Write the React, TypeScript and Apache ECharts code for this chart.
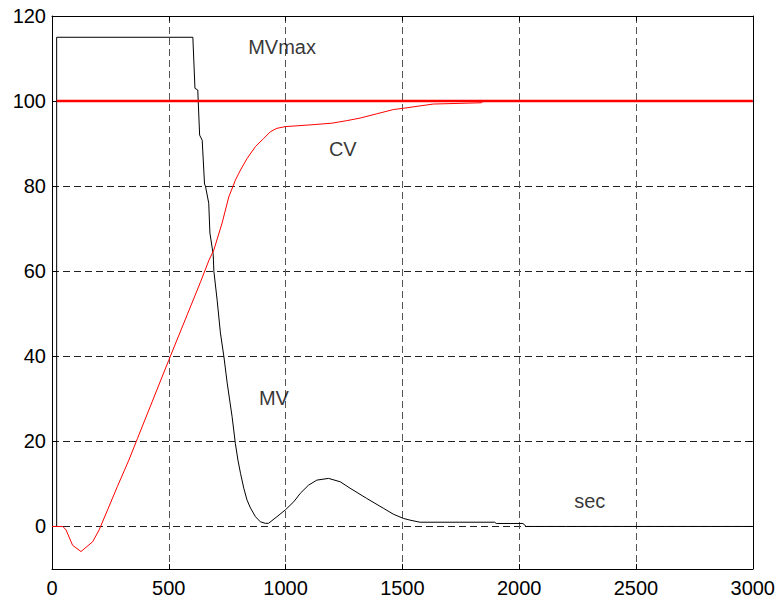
import React, { useEffect, useRef } from "react";
import * as echarts from "echarts";

// MV (manipulated variable) trajectory: time [s], value
const mvTime = [0, 20, 20, 603, 612, 624, 632, 643, 653, 657, 671, 676, 690, 693, 707, 721, 736, 750, 771, 785, 796, 807, 821, 835, 850, 871, 892, 913, 927, 963, 999, 1035, 1063, 1098, 1134, 1184, 1234, 1276, 1347, 1418, 1461, 1504, 1532, 1575, 1746, 1895, 1902, 2016, 2030, 2200, 3000];
const mvValue = [0, 0, 115, 115, 103, 102.6, 92, 90.8, 80.5, 80, 76, 69, 64, 60, 53.2, 45.5, 39.9, 33.7, 25.8, 19.5, 15.6, 12.5, 9, 6.2, 4.3, 2.3, 1.1, 0.74, 0.74, 2.3, 3.9, 5.8, 7.8, 9.7, 10.9, 11.3, 10.5, 9, 6.6, 4.3, 2.9, 1.9, 1.5, 1.0, 1.0, 1.0, 0.7, 0.7, 0, 0, 0];

// CV (controlled variable) trajectory
const cvTime = [0, 46, 60, 88, 124, 174, 202, 238, 280, 329, 366, 500, 636, 672, 693, 728, 757, 785, 807, 835, 871, 906, 935, 963, 999, 1105, 1198, 1262, 1319, 1390, 1461, 1504, 1554, 1632, 1838, 1845, 2200];
const cvValue = [0, 0, -0.8, -4.4, -5.9, -3.6, -0.8, 3.9, 9.4, 15.6, 20.7, 39.1, 57.5, 62.6, 65, 71.3, 77.5, 81.4, 83.8, 86.5, 89.3, 91.2, 92.8, 93.6, 94, 94.4, 94.8, 95.4, 96, 97, 98, 98.3, 98.7, 99.3, 99.6, 99.9, 100];

// Setpoint
const spTime = [20, 3000];
const spValue = [100, 100];

// Annotations
const noteText = ["MVmax", "CV", "MV", "sec"];
const noteTime = [985, 1245, 950, 2302];
const noteValue = [112.7, 88.7, 30.3, 6.1];

// Axes
const xMin = 0, xMax = 3000, xStep = 500;
const yMin = -10, yMax = 120, yStep = 20;

const FONT = "'Liberation Sans', Arial, sans-serif";

export default function App() {
  const ref = useRef<HTMLDivElement>(null);
  useEffect(() => {
    if (!ref.current) return;
    const chart = echarts.init(ref.current, null, { renderer: "svg" });
    const pairs = (t: number[], v: number[]) => t.map((x, i) => [x, v[i]]);
    const tick = { show: true, inside: true, length: 5, lineStyle: { color: "#000", width: 1 } };
    chart.setOption({
      animation: false,
      backgroundColor: "#fff",
      grid: { left: 52, right: 25, top: 16, bottom: 32, show: false },
      xAxis: [
        {
          type: "value", min: xMin, max: xMax, interval: xStep,
          axisLine: { show: true, onZero: false, lineStyle: { color: "#000", width: 1 } },
          axisTick: tick,
          axisLabel: { color: "#000", fontSize: 20, fontFamily: FONT, margin: 9, formatter: (v: number) => String(v) },
          splitLine: { show: true, lineStyle: { color: "#555", type: [7, 4], width: 1 } },
        },
        {
          type: "value", min: xMin, max: xMax, interval: xStep, position: "top",
          axisLine: { show: true, onZero: false, lineStyle: { color: "#000", width: 1 } },
          axisTick: tick, axisLabel: { show: false }, splitLine: { show: false },
        },
      ],
      yAxis: [
        {
          type: "value", min: yMin, max: yMax, minInterval: yStep, maxInterval: yStep, splitNumber: 7,
          axisLine: { show: true, onZero: false, lineStyle: { color: "#000", width: 1 } },
          axisTick: tick,
          axisLabel: {
            color: "#000", fontSize: 20, fontFamily: FONT, margin: 6,
            formatter: (v: number) => (v === yMin ? "" : String(v)),
          },
          splitLine: { show: true, lineStyle: { color: "#222", type: [7, 4], width: 1 } },
        },
        {
          type: "value", min: yMin, max: yMax, minInterval: yStep, maxInterval: yStep, splitNumber: 7, position: "right",
          axisLine: { show: true, onZero: false, lineStyle: { color: "#000", width: 1 } },
          axisTick: tick, axisLabel: { show: false }, splitLine: { show: false },
        },
      ],
      series: [
        {
          type: "line", data: pairs(mvTime, mvValue), showSymbol: false, symbol: "none",
          lineStyle: { color: "#000", width: 1 }, z: 3,
        },
        {
          type: "line", data: pairs(cvTime, cvValue), showSymbol: false, symbol: "none",
          lineStyle: { color: "#ff0000", width: 1 }, z: 4,
        },
        {
          type: "line", data: pairs(spTime, spValue), showSymbol: false, symbol: "none",
          lineStyle: { color: "#ff0000", width: 2.5 }, z: 5,
        },
        {
          type: "scatter", symbolSize: 0, z: 6,
          data: noteText.map((n, i) => ({ name: n, value: [noteTime[i], noteValue[i]] })),
          label: {
            show: true, position: "inside", formatter: "{b}",
            color: "#000", fontSize: 20, fontFamily: FONT,
          },
        },
      ],
    });
    return () => chart.dispose();
  }, []);
  return (
    <div
      ref={ref}
      style={{ position: "fixed", left: 0, top: 0, width: 778, height: 601, background: "#fff" }}
    />
  );
}
